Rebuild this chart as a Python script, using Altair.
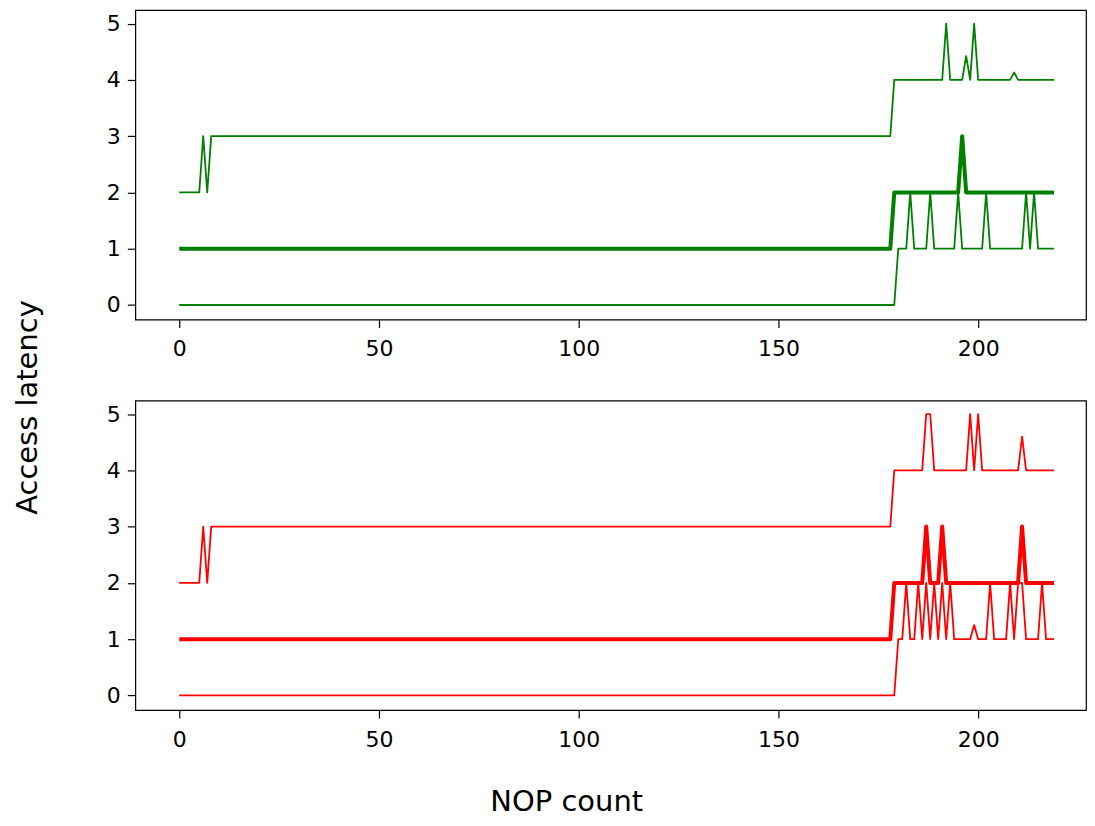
import altair as alt
import pandas as pd

# NOP count values (x axis)
nop = list(range(0, 220))

# Run-length segments (value, count)
green_upper = [(2, 6), (3, 1), (2, 1), (3, 171), (4, 13), (5, 1), (4, 4), (4.42, 1),
               (4, 1), (5, 1), (4, 9), (4.13, 1), (4, 10)]
green_middle = [(1, 179), (2, 17), (3, 1), (2, 23)]
green_lower = [(0, 180), (1, 3), (2, 1), (1, 4), (2, 1), (1, 6), (2, 1), (1, 6), (2, 1),
               (1, 9), (2, 1), (1, 1), (2, 1), (1, 5)]

red_upper = [(2, 6), (3, 1), (2, 1), (3, 171), (4, 8), (5, 2), (4, 9), (5, 1), (4, 1),
             (5, 1), (4, 10), (4.6, 1), (4, 8)]
red_middle = [(1, 179), (2, 8), (3, 1), (2, 3), (3, 1), (2, 19), (3, 1), (2, 8)]
red_lower = [(0, 180), (1, 2), (2, 1), (1, 2), (2, 1), (1, 1), (2, 1), (1, 1), (2, 1),
             (1, 1), (2, 1), (1, 1), (2, 1), (1, 5), (1.25, 1), (1, 3), (2, 1), (1, 4),
             (2, 1), (1, 1), (2, 2), (1, 4), (2, 1), (1, 3)]

x_ticks = [0, 50, 100, 150, 200]
y_ticks = [0, 1, 2, 3, 4, 5]


def expand(runs):
    out = []
    for v, n in runs:
        out += [v] * n
    return out


def frame(series):
    rows = []
    for name, runs in series:
        vals = expand(runs)
        for xv, yv in zip(nop, vals):
            rows.append({"nop": xv, "latency": yv, "series": name})
    return pd.DataFrame(rows)


def panel(df, color, extra):
    xenc = alt.X("nop:Q", scale=alt.Scale(domain=[-11, 227], nice=False, zero=False),
                 axis=alt.Axis(values=x_ticks, title=None, format="d"))
    yenc = alt.Y("latency:Q", scale=alt.Scale(domain=[-0.26, 5.24], nice=False, zero=False),
                 axis=alt.Axis(values=y_ticks, title=None, format="d"))
    base = alt.Chart(df)
    thin = base.transform_filter(alt.datum.series != "middle").mark_line(
        color=color, strokeWidth=1.8, strokeJoin="round"
    ).encode(x=xenc, y=yenc, detail="series:N", order="nop:Q")
    thick = base.transform_filter(alt.datum.series == "middle").mark_line(
        color=color, strokeWidth=4, strokeJoin="round"
    ).encode(x=xenc, y=yenc, order="nop:Q")
    return alt.layer(thin, thick, *extra).properties(width=952, height=310)


ylabel = alt.Chart(pd.DataFrame({"t": ["Access latency"]})).mark_text(
    angle=270, fontSize=29, font="DejaVu Sans", align="center", baseline="alphabetic",
    color="black"
).encode(text="t:N", x=alt.value(-98.5), y=alt.value(398))

xlabel = alt.Chart(pd.DataFrame({"t": ["NOP count"]})).mark_text(
    fontSize=29, font="DejaVu Sans", align="center", baseline="alphabetic", color="black"
).encode(text="t:N", x=alt.value(432), y=alt.value(411))

top = panel(frame([("upper", green_upper), ("middle", green_middle),
                   ("lower", green_lower)]), "green", [ylabel])
bottom = panel(frame([("upper", red_upper), ("middle", red_middle),
                      ("lower", red_lower)]), "red", [xlabel])

chart = alt.vconcat(top, bottom, spacing=81, bounds="flush").properties(
    padding={"left": 4.5, "top": 0.5, "right": 0, "bottom": 0},
    background="white",
).configure_view(
    stroke="black", strokeWidth=1.2
).configure_axis(
    domain=False, grid=False, tickColor="black", tickSize=8, tickWidth=1.2,
    labelFont="DejaVu Sans", labelFontSize=22, labelColor="black"
).configure_axisX(labelPadding=11).configure_axisY(labelPadding=7)

chart.save("out.html", embed_options={"renderer": "svg", "actions": False})
